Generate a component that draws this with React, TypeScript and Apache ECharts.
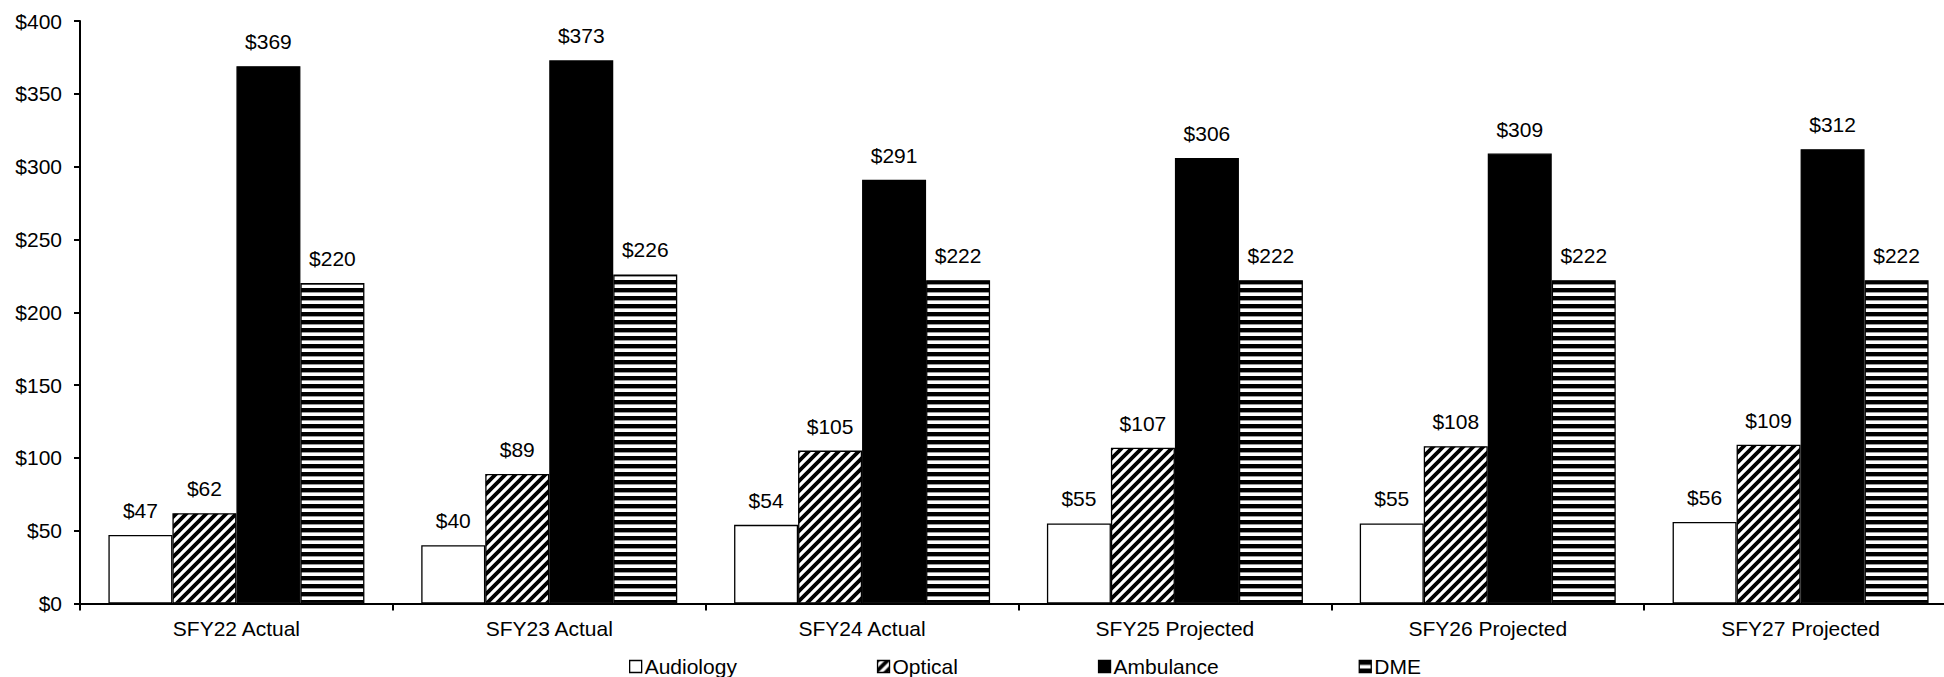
import React, { useEffect, useRef } from 'react';
import * as echarts from 'echarts';

const categories = ['SFY22 Actual', 'SFY23 Actual', 'SFY24 Actual', 'SFY25 Projected', 'SFY26 Projected', 'SFY27 Projected'];
const seriesNames = ['Audiology', 'Optical', 'Ambulance', 'DME'];
const audiology = [47, 40, 54, 55, 55, 56];
const optical = [62, 89, 105, 107, 108, 109];
const ambulance = [369, 373, 291, 306, 309, 312];
const dme = [220, 226, 222, 222, 222, 222];
const yMin = 0;
const yMax = 400;
const yInterval = 50;

const FONT = "'Liberation Sans', Arial, sans-serif";

function diagPattern(): HTMLCanvasElement {
  const s = 10;
  const c = document.createElement('canvas');
  c.width = s;
  c.height = s;
  const ctx = c.getContext('2d')!;
  ctx.fillStyle = '#fff';
  ctx.fillRect(0, 0, s, s);
  ctx.strokeStyle = '#000';
  ctx.lineWidth = 3.8;
  ctx.beginPath();
  for (const k of [0, s, 2 * s]) {
    ctx.moveTo(-2, k + 2);
    ctx.lineTo(k + 2, -2);
  }
  ctx.stroke();
  return c;
}

function hStripePattern(): HTMLCanvasElement {
  const s = 8;
  const c = document.createElement('canvas');
  c.width = s;
  c.height = s;
  const ctx = c.getContext('2d')!;
  ctx.fillStyle = '#fff';
  ctx.fillRect(0, 0, s, s);
  ctx.fillStyle = '#000';
  ctx.fillRect(0, 0, s, 4.4);
  return c;
}

export default function App() {
  const ref = useRef<HTMLDivElement>(null);
  useEffect(() => {
    if (!ref.current) return;
    const chart = echarts.init(ref.current, undefined, { renderer: 'svg' });
    const fills: any[] = [
      '#ffffff',
      { image: diagPattern(), repeat: 'repeat' },
      '#000000',
      { image: hStripePattern(), repeat: 'repeat' },
    ];
    const datasets = [audiology, optical, ambulance, dme];
    chart.setOption({
      animation: false,
      backgroundColor: '#ffffff',
      textStyle: { fontFamily: FONT },
      grid: { left: 80, right: 23, top: 21, bottom: 73.5, containLabel: false },
      legend: {
        data: seriesNames.map((n) => ({ name: n, icon: 'rect' })),
        left: 624,
        top: 651,
        itemWidth: 12,
        itemHeight: 12,
        itemGap: 140,
        textStyle: { fontSize: 21, color: '#000', fontFamily: FONT, padding: [0, 0, 0, -2] },
        itemStyle: { borderColor: '#000', borderWidth: 1.3 },
      },
      xAxis: {
        type: 'category',
        data: categories,
        axisLine: { lineStyle: { color: '#000', width: 2 } },
        axisTick: { show: true, length: 7, lineStyle: { color: '#000', width: 2 } },
        axisLabel: { color: '#000', fontSize: 21, margin: 14, fontFamily: FONT },
        splitLine: { show: false },
      },
      yAxis: {
        type: 'value',
        min: yMin,
        max: yMax,
        interval: yInterval,
        axisLine: { show: true, lineStyle: { color: '#000', width: 2 } },
        axisTick: { show: true, length: 6, lineStyle: { color: '#000', width: 2 } },
        axisLabel: { color: '#000', fontSize: 21, margin: 18, fontFamily: FONT, formatter: (v: number) => '$' + v },
        splitLine: { show: false },
      },
      series: seriesNames.map((name, i) => ({
        name,
        type: 'bar',
        data: datasets[i],
        barWidth: 64,
        barGap: '0%',
        itemStyle: { color: fills[i], borderColor: '#000', borderWidth: 1.3 },
        label: {
          show: true,
          position: 'top',
          distance: 14,
          color: '#000',
          fontSize: 21,
          fontFamily: FONT,
          formatter: (p: any) => '$' + p.value,
        },
      })),
    });
    return () => chart.dispose();
  }, []);
  return (
    <div style={{ position: 'absolute', left: 0, top: 0, width: 1944, height: 677, overflow: 'hidden', background: '#fff' }}>
      <div ref={ref} style={{ width: 1980, height: 677 }} />
    </div>
  );
}
